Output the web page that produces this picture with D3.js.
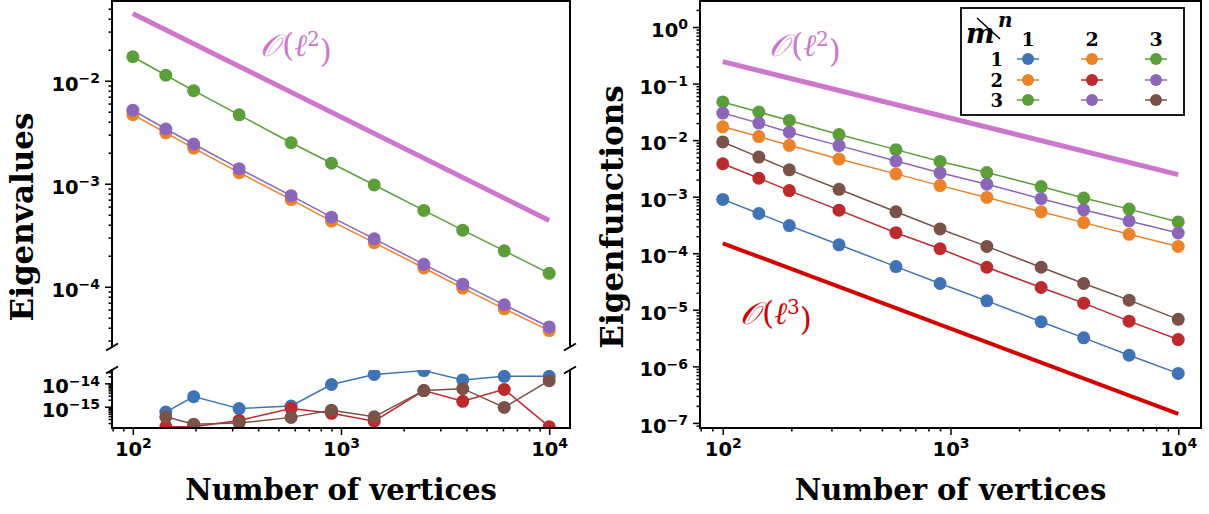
<!DOCTYPE html>
<html>
<head>
<meta charset="utf-8">
<script src="https://cdn.jsdelivr.net/npm/d3@7"></script>
<style>
  body { margin: 0; background: #fff; }
  svg { display: block; }
</style>
</head>
<body>
<svg id="chart" width="1209" height="514"></svg>
<script>
// number of vertices (x values, shared by every series)
var vertices = [100, 144, 196, 324, 576, 900, 1444, 2500, 3844, 6084, 10000];

// left panel, upper part: eigenvalue errors of the off-diagonal pairs
var eigOrange = [0.00468, 0.00312, 0.00222, 0.00128, 0.000702, 0.000434, 0.000268, 0.000152, 0.0000970, 0.0000610, 0.0000375];
var eigGreen  = [0.0171, 0.0113, 0.0080, 0.00467, 0.00250, 0.00158, 0.000973, 0.000551, 0.000354, 0.000223, 0.000135];
var eigPurple = [0.00518, 0.00340, 0.00243, 0.00140, 0.000766, 0.000474, 0.000292, 0.000165, 0.000106, 0.0000667, 0.0000407];

// left panel, lower part: diagonal pairs (machine precision), first point missing
var errBlue  = [null, 5.9e-16, 2.7e-15, 8.3e-16, 1.07e-15, 8.9e-15, 2.4e-14, 3.5e-14, 1.4e-14, 2.0e-14, 2.0e-14];
var errRed   = [null, 1.4e-16, 1.4e-16, 2.6e-16, 8.3e-16, 5.2e-16, 2.4e-16, 4.9e-15, 1.7e-15, 5.5e-15, 1.4e-16];
var errBrown = [null, 3.7e-16, 1.8e-16, 2.0e-16, 3.5e-16, 7.1e-16, 3.7e-16, 4.9e-15, 5.9e-15, 9.3e-16, 1.3e-14];

// right panel: eigenfunction errors
var funBlue   = [8.95e-4, 5.04e-4, 3.08e-4, 1.41e-4, 5.8e-5, 2.92e-5, 1.44e-5, 6.15e-6, 3.19e-6, 1.57e-6, 7.5e-7];
var funOrange = [0.0172, 0.01156, 0.00809, 0.00462, 0.00253, 0.00157, 0.00097, 0.00054, 0.000348, 0.000216, 0.000132];
var funGreen  = [0.0473, 0.0314, 0.0223, 0.01256, 0.00679, 0.00420, 0.00267, 0.00151, 0.000946, 0.000603, 0.000358];
var funRed    = [0.00382, 0.00212, 0.00128, 0.000578, 0.000231, 0.000120, 5.65e-5, 2.48e-5, 1.31e-5, 6.3e-6, 2.98e-6];
var funPurple = [0.0301, 0.0200, 0.0138, 0.0080, 0.00426, 0.00264, 0.00166, 0.00092, 0.000586, 0.000373, 0.000228];
var funBrown  = [0.00929, 0.00501, 0.00298, 0.00135, 0.00054, 0.000269, 0.000132, 5.65e-5, 2.92e-5, 1.48e-5, 6.78e-6];

// reference slopes
var refVertices = [100, 10000];
var refEig2 = [0.045, 0.00044];
var refFun2 = [0.245, 0.00245];
var refFun3 = [0.00015, 1.45e-7];

// tick exponents
var xTickExp = [2, 3, 4];
var eigTickExp = [-2, -3, -4];
var errTickExp = [-14, -15];
var funTickExp = [0, -1, -2, -3, -4, -5, -6, -7];

// legend grid m (rows) x n (cols)
var legendNums = ["1", "2", "3"];

var col = {
  blue: "#3f73b6", orange: "#ea832a", green: "#5c9e3a",
  red: "#bd2a2e", purple: "#8b66b9", brown: "#7a5246",
  pink: "#cc77cc", ref3: "#d40000"
};
var legendColors = [
  [col.blue, col.orange, col.green],
  [col.orange, col.red, col.purple],
  [col.green, col.purple, col.brown]
];

var svg = d3.select("#chart");
var serif = "'DejaVu Serif', serif";
var sans = "'DejaVu Sans', sans-serif";

function minorTicks(lo, hi) {
  var out = [];
  for (var e = Math.floor(Math.log10(lo)) - 1; e <= Math.ceil(Math.log10(hi)); e++) {
    for (var k = 2; k < 10; k++) {
      var v = k * Math.pow(10, e);
      if (v >= lo && v <= hi) out.push(v);
    }
  }
  return out;
}

function supLabel(sel, anchor) {
  sel.each(function(d) {
    var t = d3.select(this);
    var e = Math.round(Math.log10(d));
    t.text("").attr("text-anchor", anchor);
    t.append("tspan").text("10");
    t.append("tspan").attr("dy", "-0.55em").attr("font-size", "14px")
      .text(e < 0 ? "\u2212" + (-e) : e);
  });
}

function styleAxis(g) {
  g.select(".domain").remove();
  g.selectAll(".tick line").attr("stroke", "#000").attr("stroke-width", 1.5);
  g.selectAll("text").attr("fill", "#000").attr("font-family", sans)
    .attr("font-weight", "bold").attr("font-size", "19.5px");
}

function yAxis(g, y, majorsExp, x0) {
  var dom = y.domain();
  var lo = Math.min(dom[0], dom[1]), hi = Math.max(dom[0], dom[1]);
  var gm = g.append("g").attr("transform", "translate(" + x0 + ",0)")
    .call(d3.axisLeft(y).tickValues(minorTicks(lo, hi)).tickSize(3.5).tickFormat(""));
  styleAxis(gm);
  var ga = g.append("g").attr("transform", "translate(" + x0 + ",0)")
    .call(d3.axisLeft(y).tickValues(majorsExp.map(function(e) { return Math.pow(10, e); })).tickSize(7).tickPadding(5));
  styleAxis(ga);
  ga.selectAll(".tick text").attr("dy", null).attr("y", 9.5).call(supLabel, "end");
}

function xAxis(g, x, y0) {
  var dom = x.domain();
  var gm = g.append("g").attr("transform", "translate(0," + y0 + ")")
    .call(d3.axisBottom(x).tickValues(minorTicks(dom[0], dom[1])).tickSize(3.5).tickFormat(""));
  styleAxis(gm);
  var ga = g.append("g").attr("transform", "translate(0," + y0 + ")")
    .call(d3.axisBottom(x).tickValues(xTickExp.map(function(e) { return Math.pow(10, e); })).tickSize(7));
  styleAxis(ga);
  ga.selectAll(".tick text").attr("dy", null).attr("y", 28).call(supLabel, "middle");
}

function spine(x1, y1, x2, y2) {
  svg.append("line").attr("x1", x1).attr("y1", y1).attr("x2", x2).attr("y2", y2)
    .attr("stroke", "#000").attr("stroke-width", 2).attr("stroke-linecap", "square");
}

function breakMark(cx, cy) {
  svg.append("line").attr("x1", cx - 6).attr("y1", cy + 3.5).attr("x2", cx + 6).attr("y2", cy - 3.5)
    .attr("stroke", "#000").attr("stroke-width", 2);
}

function clip(id, x, y, w, h) {
  svg.append("defs").append("clipPath").attr("id", id)
    .append("rect").attr("x", x).attr("y", y).attr("width", w).attr("height", h);
}

function series(g, x, y, vals, color) {
  var pts = vertices.map(function(v, i) { return [v, vals[i]]; })
    .filter(function(p) { return p[1] != null; });
  var line = d3.line().x(function(d) { return x(d[0]); }).y(function(d) { return y(d[1]); });
  g.append("path").datum(pts).attr("d", line).attr("fill", "none")
    .attr("stroke", color).attr("stroke-width", 1.5);
  g.selectAll(null).data(pts).enter().append("circle")
    .attr("cx", function(d) { return x(d[0]); })
    .attr("cy", function(d) { return y(d[1]); })
    .attr("r", 6.5).attr("fill", color);
}

function refLine(g, x, y, vals, color, w) {
  var line = d3.line().x(function(d) { return x(d[0]); }).y(function(d) { return y(d[1]); });
  g.append("path").datum(refVertices.map(function(v, i) { return [v, vals[i]]; }))
    .attr("d", line).attr("fill", "none").attr("stroke", color).attr("stroke-width", w);
}

function orderLabel(x, y, p, color) {
  var t = svg.append("text").attr("x", x).attr("y", y).attr("text-anchor", "middle")
    .attr("font-family", serif).attr("font-size", "31px").attr("fill", color);
  t.append("tspan").attr("font-style", "italic").text("\uD835\uDCAA");
  t.append("tspan").attr("dx", "2").text("(");
  t.append("tspan").attr("font-style", "italic").text("\u2113");
  t.append("tspan").attr("dy", "-0.5em").attr("font-size", "20px").text(p);
  t.append("tspan").attr("dy", "0.5em").text(")");
}

// ---------------- left panel ----------------
var L = {x0: 112, x1: 570, top: 1, bot1: 347, top2: 370, bot: 428};
var xL = d3.scaleLog().domain([Math.pow(10, 1.9), Math.pow(10, 4.1)]).range([L.x0, L.x1]);
var yEig = d3.scaleLog().domain([Math.pow(10, -4.585), Math.pow(10, -1.226)]).range([L.bot1, L.top]);
var yErr = d3.scaleLog().domain([Math.pow(10, -15.91), Math.pow(10, -13.43)]).range([L.bot, L.top2]);

clip("clipEig", L.x0, L.top, L.x1 - L.x0, L.bot1 - L.top);
clip("clipErr", L.x0, L.top2, L.x1 - L.x0, L.bot - L.top2);

var gEig = svg.append("g").attr("clip-path", "url(#clipEig)");
refLine(gEig, xL, yEig, refEig2, col.pink, 5);
series(gEig, xL, yEig, eigOrange, col.orange);
series(gEig, xL, yEig, eigGreen, col.green);
series(gEig, xL, yEig, eigPurple, col.purple);

var gErr = svg.append("g").attr("clip-path", "url(#clipErr)");
series(gErr, xL, yErr, errBlue, col.blue);
series(gErr, xL, yErr, errRed, col.red);
series(gErr, xL, yErr, errBrown, col.brown);

yAxis(svg.append("g"), yEig, eigTickExp, L.x0);
yAxis(svg.append("g"), yErr, errTickExp, L.x0);
xAxis(svg.append("g"), xL, L.bot);

spine(L.x0, L.top, L.x1, L.top);
spine(L.x0, L.top, L.x0, L.bot1);
spine(L.x1, L.top, L.x1, L.bot1);
spine(L.x0, L.top2, L.x0, L.bot);
spine(L.x1, L.top2, L.x1, L.bot);
spine(L.x0, L.bot, L.x1, L.bot);
breakMark(L.x0, L.bot1);
breakMark(L.x1, L.bot1);
breakMark(L.x0, L.top2);
breakMark(L.x1, L.top2);

orderLabel(296, 56, "2", col.pink);

svg.append("text").attr("transform", "translate(33,217) rotate(-90)")
  .attr("text-anchor", "middle").attr("font-family", serif).attr("font-weight", "bold")
  .attr("font-size", "31px").text("Eigenvalues");
svg.append("text").attr("x", (L.x0 + L.x1) / 2).attr("y", 500)
  .attr("text-anchor", "middle").attr("font-family", serif).attr("font-weight", "bold")
  .attr("font-size", "29px").text("Number of vertices");

// ---------------- right panel ----------------
var R = {x0: 700, x1: 1201, top: 1, bot: 428};
var xR = d3.scaleLog().domain([Math.pow(10, 1.9), Math.pow(10, 4.1)]).range([R.x0, R.x1]);
var yFun = d3.scaleLog().domain([Math.pow(10, -7.09), Math.pow(10, 0.46)]).range([R.bot, R.top]);

clip("clipFun", R.x0, R.top, R.x1 - R.x0, R.bot - R.top);
var gFun = svg.append("g").attr("clip-path", "url(#clipFun)");
refLine(gFun, xR, yFun, refFun2, col.pink, 5);
refLine(gFun, xR, yFun, refFun3, col.ref3, 4);
series(gFun, xR, yFun, funBlue, col.blue);
series(gFun, xR, yFun, funOrange, col.orange);
series(gFun, xR, yFun, funGreen, col.green);
series(gFun, xR, yFun, funRed, col.red);
series(gFun, xR, yFun, funPurple, col.purple);
series(gFun, xR, yFun, funBrown, col.brown);

yAxis(svg.append("g"), yFun, funTickExp, R.x0);
xAxis(svg.append("g"), xR, R.bot);
spine(R.x0, R.top, R.x1, R.top);
spine(R.x0, R.top, R.x0, R.bot);
spine(R.x1, R.top, R.x1, R.bot);
spine(R.x0, R.bot, R.x1, R.bot);

orderLabel(805, 56, "2", col.pink);
orderLabel(776, 324, "3", col.ref3);

svg.append("text").attr("transform", "translate(623,217) rotate(-90)")
  .attr("text-anchor", "middle").attr("font-family", serif).attr("font-weight", "bold")
  .attr("font-size", "31px").text("Eigenfunctions");
svg.append("text").attr("x", (R.x0 + R.x1) / 2).attr("y", 500)
  .attr("text-anchor", "middle").attr("font-family", serif).attr("font-weight", "bold")
  .attr("font-size", "29px").text("Number of vertices");

// ---------------- legend ----------------
var lg = svg.append("g");
lg.append("rect").attr("x", 961).attr("y", 8).attr("width", 223).attr("height", 107)
  .attr("fill", "#fff").attr("stroke", "#000").attr("stroke-width", 1.8);
lg.append("text").attr("x", 966).attr("y", 43).attr("font-family", serif)
  .attr("font-style", "italic").attr("font-weight", "bold").attr("font-size", "27px").text("m");
lg.append("text").attr("x", 998).attr("y", 27).attr("font-family", serif)
  .attr("font-style", "italic").attr("font-weight", "bold").attr("font-size", "20px").text("n");
lg.append("line").attr("x1", 977).attr("y1", 18).attr("x2", 1000).attr("y2", 39)
  .attr("stroke", "#000").attr("stroke-width", 1.5);

var colX = [1028, 1092, 1156];
var rowY = [59, 80, 100];
lg.selectAll(".hdr").data(legendNums).enter().append("text")
  .attr("x", function(d, i) { return colX[i]; }).attr("y", 46)
  .attr("text-anchor", "middle").attr("font-family", serif).attr("font-weight", "bold")
  .attr("font-size", "19px").text(function(d) { return d; });
lg.selectAll(".row").data(legendNums).enter().append("text")
  .attr("x", 1003).attr("y", function(d, i) { return rowY[i] + 6.5; })
  .attr("text-anchor", "end").attr("font-family", serif).attr("font-weight", "bold")
  .attr("font-size", "18px").text(function(d) { return d; });
legendColors.forEach(function(row, i) {
  row.forEach(function(c, j) {
    lg.append("line").attr("x1", colX[j] - 11).attr("x2", colX[j] + 11)
      .attr("y1", rowY[i]).attr("y2", rowY[i]).attr("stroke", c).attr("stroke-width", 1.5);
    lg.append("circle").attr("cx", colX[j]).attr("cy", rowY[i]).attr("r", 6).attr("fill", c);
  });
});
</script>
</body>
</html>
